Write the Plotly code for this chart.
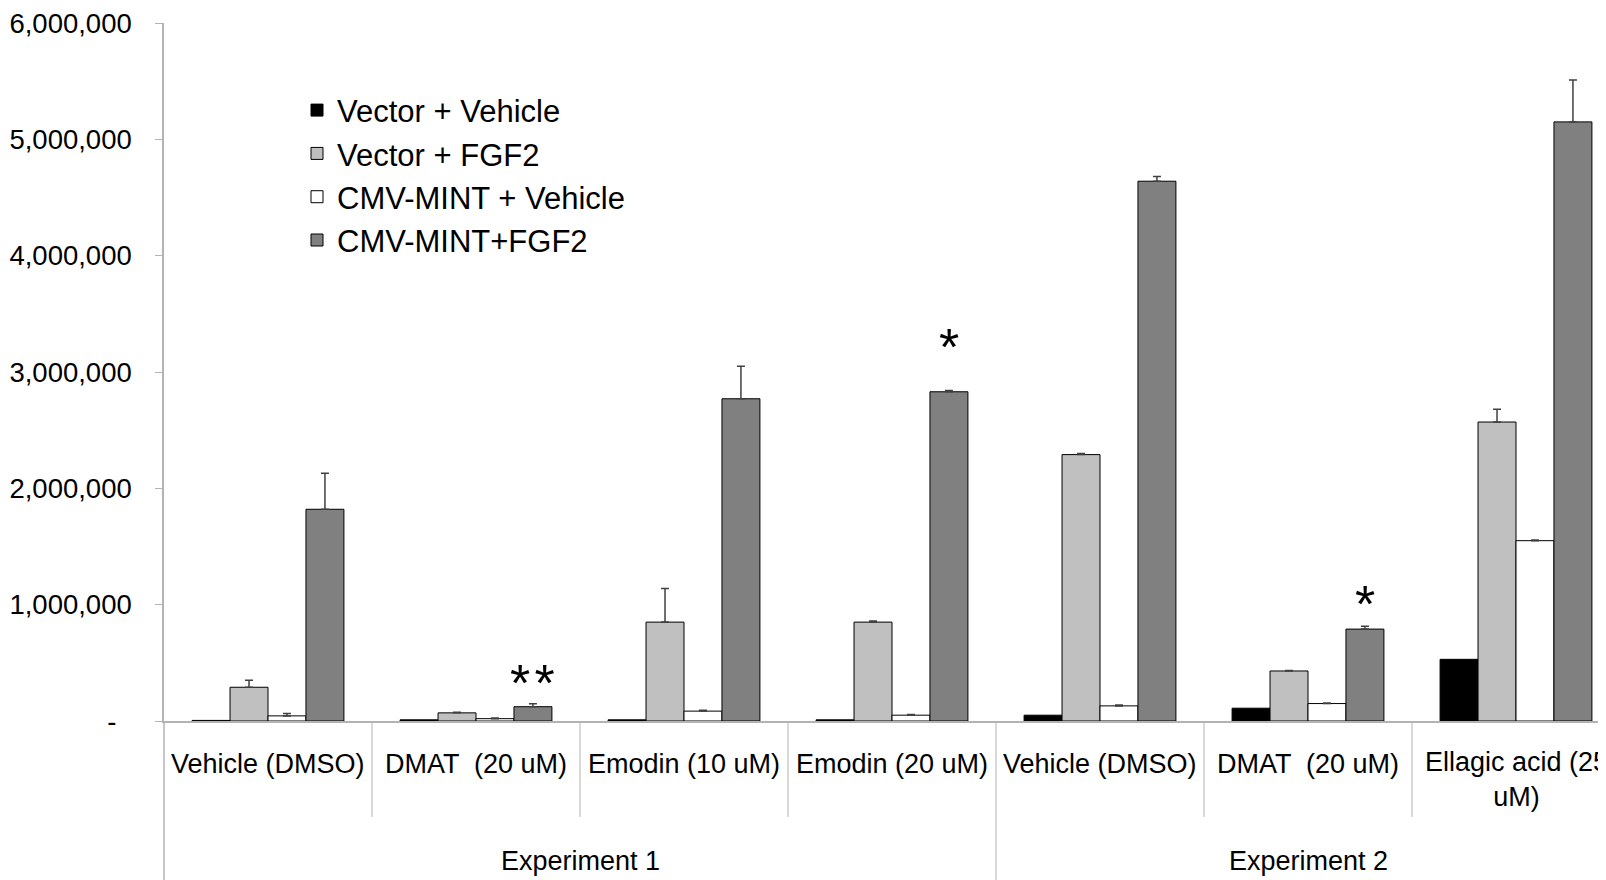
import plotly.graph_objects as go

# ---- data ----
group_ids = ["e1_veh", "e1_dmat", "e1_emo10", "e1_emo20", "e2_veh", "e2_dmat", "e2_ella"]
group_labels = ["Vehicle (DMSO)", "DMAT  (20 uM)", "Emodin (10 uM)", "Emodin (20 uM)",
                "Vehicle (DMSO)", "DMAT  (20 uM)", "Ellagic acid (25<br>uM)"]
experiments = ["Experiment 1", "Experiment 2"]
experiment_centers = [1.5, 5.0]

series_names = ["Vector + Vehicle", "Vector + FGF2", "CMV-MINT + Vehicle", "CMV-MINT+FGF2"]
vec_veh = [5000, 10000, 10000, 10000, 50000, 110000, 530000]
vec_fgf2 = [290000, 70000, 850000, 850000, 2290000, 430000, 2570000]
mint_veh = [44000, 20000, 85000, 50000, 130000, 150000, 1550000]
mint_fgf2 = [1820000, 123000, 2770000, 2830000, 4640000, 790000, 5150000]

err_vec_fgf2 = [60000, 5000, 290000, 10000, 10000, 5000, 110000]
err_mint_veh = [20000, 5000, 8000, 5000, 8000, 5000, 5000]
err_mint_fgf2 = [310000, 25000, 280000, 10000, 40000, 25000, 360000]

sig_groups = [1, 3, 5]
sig_text = ["*\u200a*", "*", "*"]
sig_y = [430000, 3316000, 1108000]

y_tickvals = [0, 1000000, 2000000, 3000000, 4000000, 5000000, 6000000]
y_ticktext = ["-\u00a0\u00a0", "1,000,000", "2,000,000", "3,000,000", "4,000,000", "5,000,000", "6,000,000"]

# ---- styling ----
FONT = "Liberation Sans, Arial, sans-serif"
colors = ["#000000", "#c0c0c0", "#ffffff", "#808080"]
AXC = "#b3b3b3"
OFF = 8  # page body margin
W, H = 1606 - OFF, 880 - OFF
BASE = 721  # baseline y in page pixels
ML, MR, MT, MB = 164 - OFF, 0, 22.5 - OFF, H - (BASE - OFF)
PH = H - MT - MB
PW = W - ML - MR
BARGAP = 0.27

def py(px):
    return (BASE - px) / PH

fig = go.Figure()
vals = [vec_veh, vec_fgf2, mint_veh, mint_fgf2]
errs = [None, err_vec_fgf2, err_mint_veh, err_mint_fgf2]
for name, v, e, c in zip(series_names, vals, errs, colors):
    kw = {}
    if e is not None:
        kw["error_y"] = dict(type="data", array=e, arrayminus=[0] * len(e), symmetric=False,
                             color="#404040", thickness=1.5, width=4)
    fig.add_trace(go.Bar(name=name, x=group_ids, y=v,
                         marker=dict(color=c, line=dict(color="#000000", width=1)), **kw))

annotations = []
for gid, lab in zip(group_ids, group_labels):
    if "<br>" in lab:
        annotations.append(dict(x=gid, y=py(745), xref="x", yref="paper", text=lab,
                                showarrow=False, yanchor="top", xanchor="center",
                                font=dict(size=27, color="black", family=FONT)))
    else:
        annotations.append(dict(x=gid, y=py(764), xref="x", yref="paper", text=lab,
                                showarrow=False, yanchor="middle", xanchor="center",
                                font=dict(size=27, color="black", family=FONT)))
for ex, cx in zip(experiments, experiment_centers):
    annotations.append(dict(x=cx, y=py(861), xref="x", yref="paper", text=ex,
                            showarrow=False, yanchor="middle", xanchor="center",
                            font=dict(size=27, color="black", family=FONT)))
offset = 1.5 * (1 - BARGAP) / 4
for g, t, yv in zip(sig_groups, sig_text, sig_y):
    annotations.append(dict(x=g + offset, y=yv, xref="x", yref="y", text=t,
                            showarrow=False, yanchor="middle", xanchor="center", yshift=-12,
                            font=dict(size=52, color="black", family=FONT)))

shapes = []
for b in [0.5, 1.5, 2.5, 4.5, 5.5]:
    shapes.append(dict(type="line", xref="x", yref="paper", x0=b, x1=b, y0=0, y1=py(817),
                       line=dict(color=AXC, width=1)))
for b in [3.5, 6.5]:
    shapes.append(dict(type="line", xref="x", yref="paper", x0=b, x1=b, y0=0, y1=py(890),
                       line=dict(color=AXC, width=1)))
shapes.append(dict(type="line", xref="x domain", yref="paper", x0=0, x1=0, y0=0, y1=py(890),
                   line=dict(color=AXC, width=1.5)))

fig.update_layout(
    width=W, height=H,
    margin=dict(l=ML, r=MR, t=MT, b=MB),
    paper_bgcolor="white", plot_bgcolor="white",
    barmode="group", bargap=BARGAP, bargroupgap=0,
    font=dict(family=FONT, color="black"),
    showlegend=True,
    legend=dict(x=(297 - 164) / PW, y=py(83), xanchor="left", yanchor="top",
                bgcolor="rgba(0,0,0,0)", font=dict(size=31, family=FONT, color="black"),
                tracegroupgap=0),
    xaxis=dict(type="category", categoryorder="array", categoryarray=group_ids,
               range=[-0.5, 6.5 - 14 / 208], showticklabels=False, ticks="",
               showline=True, linecolor=AXC, linewidth=1.5, showgrid=False, zeroline=False),
    yaxis=dict(range=[0, 6000000], tickvals=y_tickvals, ticktext=y_ticktext,
               ticks="outside", ticklen=7, tickcolor=AXC, tickwidth=1,
               showline=True, linecolor=AXC, linewidth=1.5, showgrid=False, zeroline=False,
               tickfont=dict(size=27.5, family=FONT, color="black"), ticklabelstandoff=18,
               ticklabeloverflow="allow"),
    annotations=annotations, shapes=shapes,
)
fig.write_html("out.html")
